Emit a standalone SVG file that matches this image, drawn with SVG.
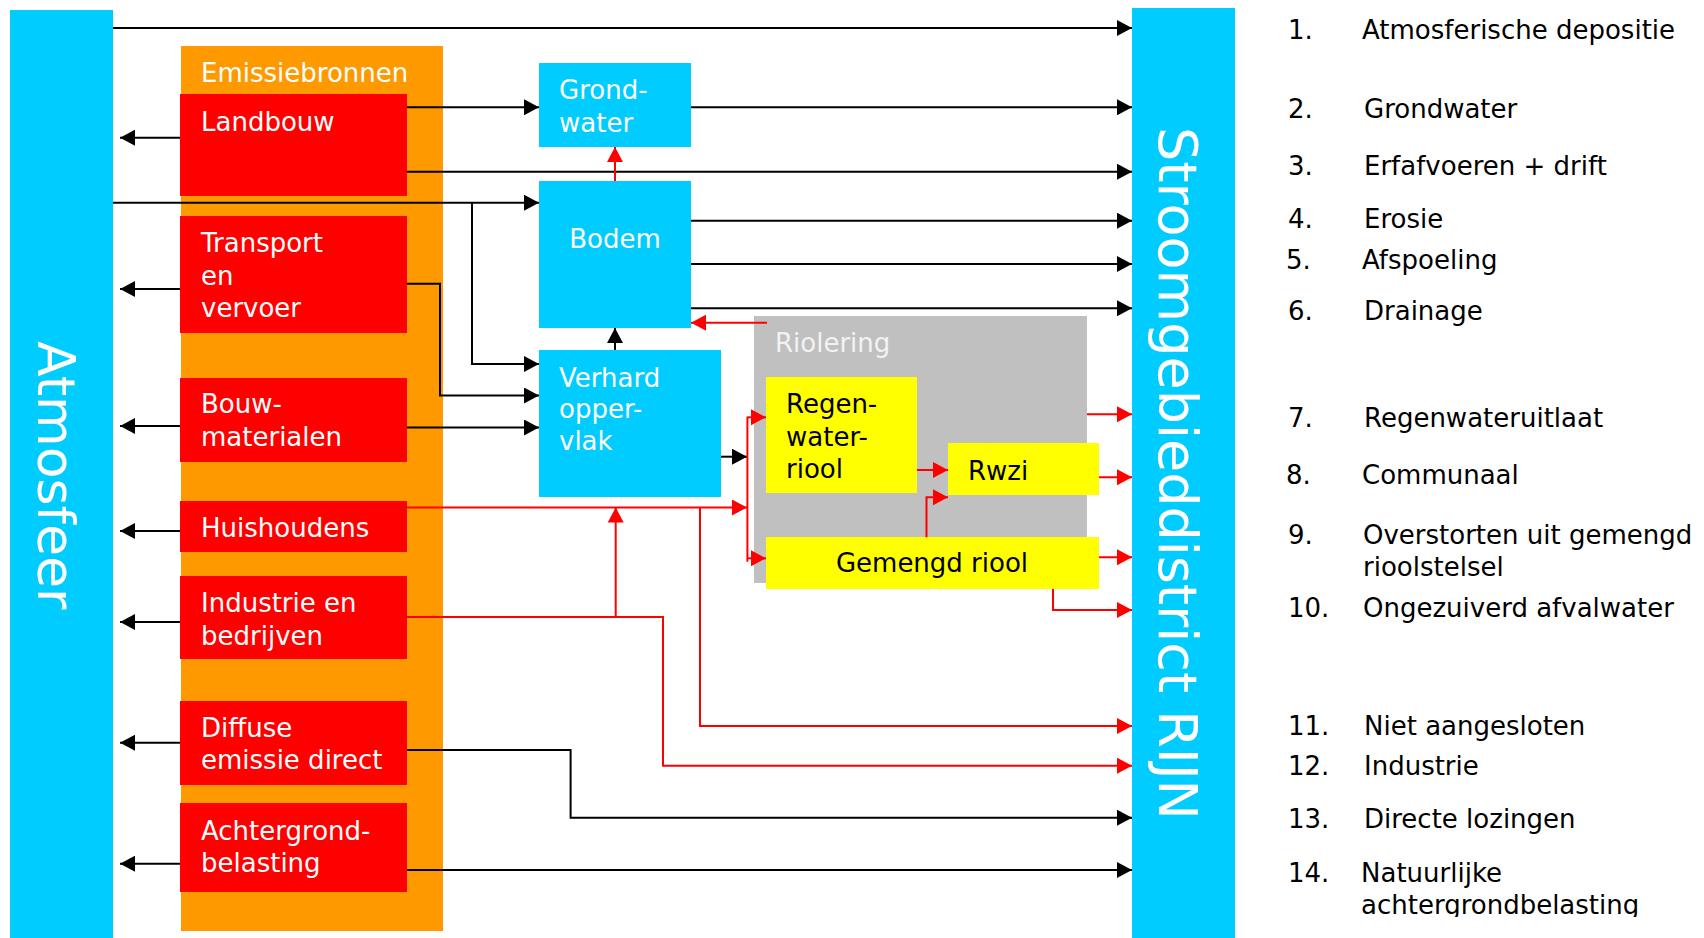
<svg xmlns="http://www.w3.org/2000/svg" width="1704" height="938" viewBox="0 0 1704 938">
<defs>
<style>
text{font-family:"DejaVu Sans","Liberation Sans",sans-serif;font-size:26px}
text.big1{font-size:52px}
text.big2{font-size:54px}
.w{fill:#ffffff}
.k{fill:#000000}
.cy{fill:#00ccff}
.rd{fill:#ff0000}
.yl{fill:#ffff00}
.bl{stroke:#000000;stroke-width:2;fill:none}
.rl{stroke:#ff0000;stroke-width:2;fill:none}
.ba{marker-end:url(#ab)}
.ra{marker-end:url(#ar)}
</style>
<marker id="ab" markerUnits="userSpaceOnUse" markerWidth="16" markerHeight="16" refX="15" refY="8" orient="auto" viewBox="0 0 16 16">
<path d="M0,0 L15,8 L0,16 Z" fill="#000000"/>
</marker>
<marker id="ar" markerUnits="userSpaceOnUse" markerWidth="16" markerHeight="16" refX="15" refY="8" orient="auto" viewBox="0 0 16 16">
<path d="M0,0 L15,8 L0,16 Z" fill="#ff0000"/>
</marker>
<clipPath id="legclip"><rect x="1240" y="0" width="464" height="917"/></clipPath>
</defs>
<rect width="1704" height="938" fill="#ffffff"/>

<g id="atmosfeer">
<rect class="cy" x="10" y="10" width="103" height="928"/>
<text class="w big1" transform="translate(38,341) rotate(90)">Atmosfeer</text>
</g>

<g id="stroomgebied">
<rect class="cy" x="1132" y="8" width="103" height="930"/>
<text class="w big2" transform="translate(1159,127) rotate(90)">Stroomgebieddistrict RIJN</text>
</g>

<g id="emissiebronnen">
<rect x="181" y="46" width="262" height="885" fill="#ff9900"/>
<text class="w" x="201" y="82">Emissiebronnen</text>
</g>

<g id="landbouw">
<rect class="rd" x="180" y="94" width="227" height="102"/>
<text class="w" x="201" y="131">Landbouw</text>
</g>
<g id="transport">
<rect class="rd" x="180" y="216" width="227" height="117"/>
<text class="w" x="201" y="252">Transport</text>
<text class="w" x="201" y="285">en</text>
<text class="w" x="201" y="317">vervoer</text>
</g>
<g id="bouwmaterialen">
<rect class="rd" x="180" y="378" width="227" height="84"/>
<text class="w" x="201" y="413">Bouw-</text>
<text class="w" x="201" y="446">materialen</text>
</g>
<g id="huishoudens">
<rect class="rd" x="180" y="501" width="227" height="51"/>
<text class="w" x="201" y="537">Huishoudens</text>
</g>
<g id="industrie">
<rect class="rd" x="180" y="576" width="227" height="83"/>
<text class="w" x="201" y="612">Industrie en</text>
<text class="w" x="201" y="645">bedrijven</text>
</g>
<g id="diffuse">
<rect class="rd" x="180" y="701" width="227" height="84"/>
<text class="w" x="201" y="737">Diffuse</text>
<text class="w" x="201" y="769">emissie direct</text>
</g>
<g id="achtergrond">
<rect class="rd" x="180" y="803" width="227" height="89"/>
<text class="w" x="201" y="840">Achtergrond-</text>
<text class="w" x="201" y="872">belasting</text>
</g>

<g id="grondwater">
<rect class="cy" x="539" y="63" width="152" height="84"/>
<text class="w" x="559" y="99">Grond-</text>
<text class="w" x="559" y="132">water</text>
</g>
<g id="bodem">
<rect class="cy" x="539" y="181" width="152" height="147"/>
<text class="w" x="615" y="248" text-anchor="middle">Bodem</text>
</g>
<g id="verhard">
<rect class="cy" x="539" y="350" width="182" height="147"/>
<text class="w" x="559" y="387">Verhard</text>
<text class="w" x="559" y="418">opper-</text>
<text class="w" x="559" y="450">vlak</text>
</g>

<g id="riolering">
<rect x="754" y="316" width="333" height="267" fill="#c0c0c0"/>
<text x="775" y="352" fill="#f2f2f2">Riolering</text>
</g>
<g id="regenwaterriool">
<rect class="yl" x="766" y="377" width="151" height="116"/>
<text class="k" x="786" y="413">Regen-</text>
<text class="k" x="786" y="446">water-</text>
<text class="k" x="786" y="478">riool</text>
</g>
<g id="rwzi">
<rect class="yl" x="948" y="443" width="151" height="52"/>
<text class="k" x="968" y="480">Rwzi</text>
</g>
<g id="gemengdriool">
<rect class="yl" x="766" y="537" width="333" height="52"/>
<text class="k" x="932" y="572" text-anchor="middle">Gemengd riool</text>
</g>

<g id="legenda" clip-path="url(#legclip)">
<text class="k" x="1288" y="39">1.</text><text class="k" x="1362" y="39">Atmosferische depositie</text>
<text class="k" x="1288" y="118">2.</text><text class="k" x="1364" y="118">Grondwater</text>
<text class="k" x="1288" y="175">3.</text><text class="k" x="1364" y="175">Erfafvoeren + drift</text>
<text class="k" x="1288" y="228">4.</text><text class="k" x="1364" y="228">Erosie</text>
<text class="k" x="1286" y="269">5.</text><text class="k" x="1362" y="269">Afspoeling</text>
<text class="k" x="1288" y="320">6.</text><text class="k" x="1364" y="320">Drainage</text>
<text class="k" x="1288" y="427">7.</text><text class="k" x="1364" y="427">Regenwateruitlaat</text>
<text class="k" x="1286" y="484">8.</text><text class="k" x="1362" y="484">Communaal</text>
<text class="k" x="1288" y="544">9.</text><text class="k" x="1363" y="544">Overstorten uit gemengd</text>
<text class="k" x="1363" y="576">rioolstelsel</text>
<text class="k" x="1288" y="617">10.</text><text class="k" x="1363" y="617">Ongezuiverd afvalwater</text>
<text class="k" x="1288" y="735">11.</text><text class="k" x="1364" y="735">Niet aangesloten</text>
<text class="k" x="1288" y="775">12.</text><text class="k" x="1364" y="775">Industrie</text>
<text class="k" x="1288" y="828">13.</text><text class="k" x="1364" y="828">Directe lozingen</text>
<text class="k" x="1288" y="882">14.</text><text class="k" x="1361" y="882">Natuurlijke</text>
<text class="k" x="1361" y="914">achtergrondbelasting</text>
</g>

<g id="connectors">
<path class="bl ba" d="M113,28 H1132"/>
<path class="bl ba" d="M407,107.3 H539"/>
<path class="bl ba" d="M691,107.3 H1132"/>
<path class="bl ba" d="M407,171.7 H1132"/>
<path class="bl ba" d="M113,202.7 H539"/>
<path class="bl ba" d="M472,202.7 V364 H539"/>
<path class="bl ba" d="M407,283.7 H440 V395.5 H539"/>
<path class="bl ba" d="M407,427.5 H539"/>
<path class="bl ba" d="M691,220.7 H1132"/>
<path class="bl ba" d="M691,264 H1132"/>
<path class="bl ba" d="M691,308.3 H1132"/>
<path class="bl ba" d="M615,350 V328"/>
<path class="bl ba" d="M721,456.7 H747"/>
<path class="bl ba" d="M180,137.7 H120"/>
<path class="bl ba" d="M180,289 H120"/>
<path class="bl ba" d="M180,426 H120"/>
<path class="bl ba" d="M180,531 H120"/>
<path class="bl ba" d="M180,622 H120"/>
<path class="bl ba" d="M180,742.7 H120"/>
<path class="bl ba" d="M180,863.7 H120"/>
<path class="bl ba" d="M407,750 H570.6 V817.7 H1132"/>
<path class="bl ba" d="M407,870 H1132"/>
<path class="rl ra" d="M615,181 V147"/>
<path class="rl ra" d="M767,322.7 H691"/>
<path class="rl ra" d="M407,507.5 H747"/>
<path class="rl ra" d="M700,507.5 V726 H1132"/>
<path class="rl ra" d="M407,617 H663 V765.7 H1132"/>
<path class="rl ra" d="M615.7,617 V507.5"/>
<path class="rl" d="M747.4,416.7 V561.7"/>
<path class="rl ra" d="M747.4,417.3 H766"/>
<path class="rl ra" d="M747.4,558.3 H766"/>
<path class="rl ra" d="M917,470 H948"/>
<path class="rl ra" d="M926.5,537.3 V497.3 H948"/>
<path class="rl ra" d="M1087,414.3 H1132"/>
<path class="rl ra" d="M1099,477.3 H1132"/>
<path class="rl ra" d="M1099,557.3 H1132"/>
<path class="rl ra" d="M1053,589 V610 H1132"/>
</g>
</svg>
